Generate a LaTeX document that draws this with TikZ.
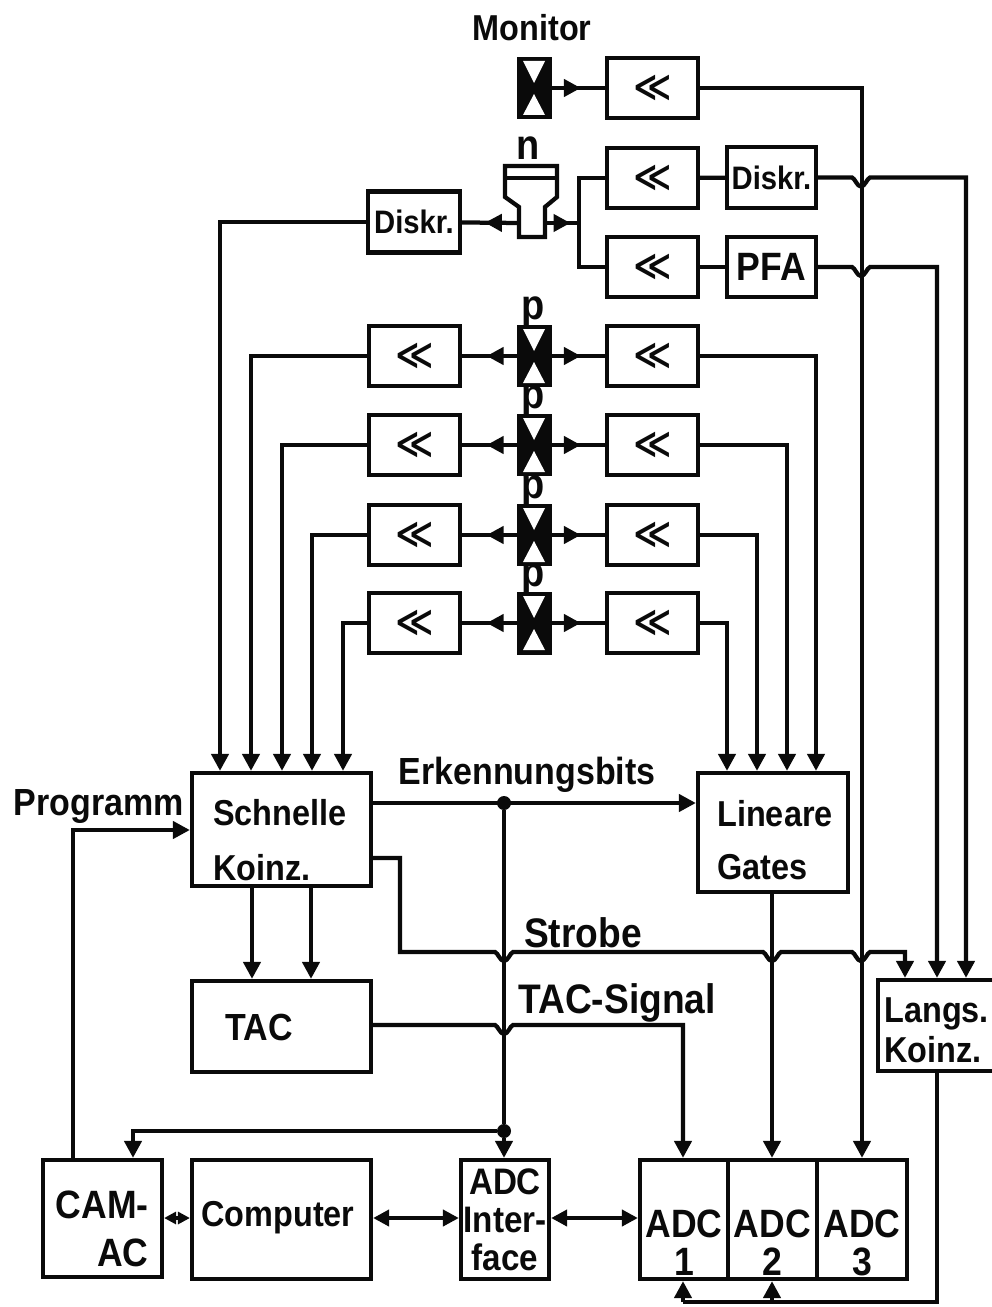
\documentclass[tikz,border=0pt]{standalone}
\usepackage{fontspec}
\setmainfont{Liberation Sans}
\newfontfamily\heavy[FakeStretch=0.9]{Liberation Sans Bold}
\newfontfamily\symfont{DejaVu Sans}
\usepackage{xcolor}
\usetikzlibrary{calc,arrows.meta,decorations.markings}
\definecolor{ink}{HTML}{0A0A0A}
\tikzset{
wire/.style={ink,line width=0.085cm,line join=miter},
tipd/.style={wire,-{Triangle[length=0.34cm,width=0.34cm]}},
tipb/.style={wire,{Triangle[length=0.32cm,width=0.32cm]}-{Triangle[length=0.32cm,width=0.32cm]}},
tips/.style={wire,{Triangle[length=0.24cm,width=0.24cm]}-{Triangle[length=0.24cm,width=0.24cm]}},
midtip/.style={wire,postaction={decorate},decoration={markings,mark=at position #1 with {\arrow{Triangle[length=0.34cm,width=0.34cm]}}}},
midtip/.default=0.55,
box/.style={draw=ink,line width=0.085cm,fill=white,inner sep=0pt,text=ink,align=center,font=\heavy\fontsize{20.5}{21.6}\selectfont},
ampbox/.style={box,minimum width=1.82cm,minimum height=1.2cm,font=\symfont\bfseries\fontsize{21}{22}\selectfont},
blockbox/.style={box,minimum width=3.58cm,minimum height=1.82cm},
lbl/.style={inner sep=0pt,text=ink,align=center,font=\heavy\fontsize{20.5}{21.6}\selectfont},
siglbl/.style={lbl,font=\heavy\fontsize{21.5}{23}\selectfont},
widelbl/.style={lbl,font=\heavy\fontsize{23.5}{25}\selectfont},
adclbl/.style={lbl,font=\heavy\fontsize{22.5}{21.6}\selectfont},
letterlbl/.style={lbl,font=\heavy\fontsize{24}{25}\selectfont},
dot/.style={circle,fill=ink,inner sep=0pt,minimum size=0.28cm},
pmtbox/.style={draw=ink,fill=ink,line width=0.02cm,inner sep=0pt,minimum width=0.68cm,minimum height=1.24cm}
}
% photomultiplier: black bar with two white triangles
\newcommand{\pmtsym}[3]{
\node[pmtbox] (#1) at (#2,#3) {};
\fill[white] (#2-11,#3-27) -- (#2+11,#3-27) -- (#2,#3-5) -- cycle;
\fill[white] (#2-11,#3+27) -- (#2+11,#3+27) -- (#2,#3+6) -- cycle;
}
% crossing: the horizontal line dips under the vertical one
\newcommand{\hop}[2]{-- (#1-9,#2) .. controls (#1-6,#2+1) and (#1-4,#2+9) .. (#1,#2+9) .. controls (#1+4,#2+9) and (#1+6,#2+1) .. (#1+9,#2)}

\begin{document}
\begin{tikzpicture}[x=0.02cm,y=-0.02cm]
\useasboundingbox (0,0) rectangle (991,1307);
% top: monitor and neutron detector
\node[lbl] (monlbl) at (532,28) {Monitor};
\pmtsym{mon}{534}{88}
\node[ampbox] (ampm) at (652.5,88) {≪};
\draw[midtip] (mon) -- (ampm);
\node[letterlbl] (nlbl) at (528,148) {n};
\draw[wire,fill=white] (505,166) -- (557,166) -- (557,197) -- (545,207) -- (545,237) -- (519,237) -- (519,207) -- (505,197) -- cycle;
\draw[wire] (505,178) -- (557,178);
\coordinate (nl) at (519,223);
\coordinate (nr) at (545,223);
\coordinate (nj) at (579,223);
\node[ampbox] (ampa) at (652.5,178) {≪};
\node[ampbox] (ampb) at (652.5,267) {≪};
\node[box,minimum width=1.78cm,minimum height=1.22cm,font=\heavy\fontsize{18.5}{20}\selectfont] (diskr) at (771.5,177.5) {Diskr.};
\node[box,minimum width=1.78cm,minimum height=1.2cm,font=\heavy\fontsize{22.5}{23}\selectfont] (pfa) at (771.5,267) {PFA};
\node[box,minimum width=1.84cm,minimum height=1.22cm,font=\heavy\fontsize{18.5}{20}\selectfont] (diskl) at (414,222) {Diskr.};
\draw[midtip=0.6] (nl) -- (diskl);
\draw[midtip=0.75] (nr) -- (nj);
\draw[wire] (ampa.west) -- (ampa.west -| nj) -- (ampb.west -| nj) -- (ampb.west);
\draw[wire] (ampa) -- (diskr);
\draw[wire] (ampb) -- (pfa);
% blocks
\node[blockbox,minimum height=2.26cm] (sk) at (281.5,829.5) {};
\node[lbl,anchor=west,align=left] (sklbl) at (213,840) {Schnelle\\[10pt]Koinz.};
\node[blockbox,minimum width=3cm,minimum height=2.38cm] (lg) at (773,832.5) {};
\node[lbl,anchor=west,align=left] (lglbl) at (717,840) {Lineare\\[9pt]Gates};
\node[blockbox] (tac) at (281.5,1026.5) {};
\node[siglbl] (taclbl) at (259,1027) {TAC};
\node[box,minimum width=2.34cm,minimum height=1.82cm] (lk) at (936.5,1025.5) {};
\node[lbl,anchor=west,align=left] (lklbl) at (884,1030) {Langs.\\[1pt]Koinz.};
\node[box,minimum width=2.38cm,minimum height=2.34cm] (cam) at (102.5,1218.5) {};
\node[adclbl,anchor=east,align=right] (camlbl) at (149,1229) {CAM-\\[6pt]AC};
\node[blockbox,minimum height=2.38cm] (comp) at (281.5,1219.5) {};
\node[lbl] (complbl) at (278,1218) {Computer};
\node[box,minimum width=1.76cm,minimum height=2.38cm,font=\heavy\fontsize{21}{21.6}\selectfont] (aif) at (505,1219.5) {ADC\\Inter-\\face};
\foreach \n/\xc/\w in {1/684/1.76,2/772.5/1.78,3/862/1.8}{
\node[box,minimum width=\w cm,minimum height=2.38cm] (adc\n) at (\xc,1219.5) {};
\node[adclbl] (adclbl\n) at (\xc,1243) {ADC\\\n};
}
% proton detectors with their two amplifiers
\foreach \n/\y/\xl/\xr in {1/356/251/816,2/445/282/787,3/535/312/757,4/623/343/727}{
\node[letterlbl] (plbl\n) at (533,\y-44) {p};
\pmtsym{pd\n}{534}{\y}
\node[ampbox] (ampl\n) at (414.5,\y) {≪};
\node[ampbox] (ampr\n) at (652.5,\y) {≪};
\draw[midtip] (pd\n) -- (ampl\n);
\draw[midtip] (pd\n) -- (ampr\n);
\draw[tipd] (ampl\n) -| (sk.north -| \xl,0);
\draw[tipd] (ampr\n) -| (lg.north -| \xr,0);
}
% connections
\draw[tipd] (diskl) -| (sk.north -| 220,0);
\draw[tipd] (ampm) -| (adc3);
\draw[tipd] (diskr) \hop{861}{177.5} -- (966,177.5) -- (lk.north -| 966,0);
\draw[tipd] (pfa) \hop{861}{267} -- (937,267) -- (lk.north -| 937,0);
\node[siglbl] (erklbl) at (527,775) {Erkennungsbits};
\node[dot] (dota) at (504,803) {};
\node[dot] (dotb) at (504,1131) {};
\draw[tipd] (sk.east |- 0,803) -- (lg.west |- 0,803);
\draw[wire] (dota) -- (dotb);
\draw[tipd] (dotb) -- (aif.north -| dotb);
\draw[tipd] (dotb) -| (cam.north -| 133,0);
\node[siglbl] (proglbl) at (99,806) {Programm};
\draw[tipd] (cam.north -| 73,0) |- (sk.west |- 0,830);
\draw[tipd] (sk.south -| 252,0) -- (tac.north -| 252,0);
\draw[tipd] (sk.south -| 311,0) -- (tac.north -| 311,0);
\node[widelbl] (strlbl) at (583,933) {Strobe};
\draw[tipd] (sk.east |- 0,858) -- (400,858) -- (400,952) \hop{504}{952} \hop{772}{952} \hop{861}{952} -- (905,952) -- (lk.north -| 905,0);
\node[widelbl] (taclabel) at (617,1003) {TAC-Signal};
\draw[tipd] (tac.east |- 0,1025) \hop{504}{1025} -- (683,1025) -- (adc1.north -| 683,0);
\draw[tipd] (lg.south -| 772,0) -- (adc2.north -| 772,0);
\draw[tips] (cam.east |- 0,1218) -- (comp.west |- 0,1218);
\draw[tipb] (comp.east |- 0,1218) -- (aif.west |- 0,1218);
\draw[tipb] (aif.east |- 0,1218) -- (adc1.west |- 0,1218);
\coordinate (bus) at (772,1302);
\draw[wire] (lk.south -| 937,0) |- (683,1302);
\draw[tipd] (683,1302) -- (adc1.south -| 683,0);
\draw[tipd] (bus) -- (adc2.south -| bus);
\end{tikzpicture}
\end{document}
